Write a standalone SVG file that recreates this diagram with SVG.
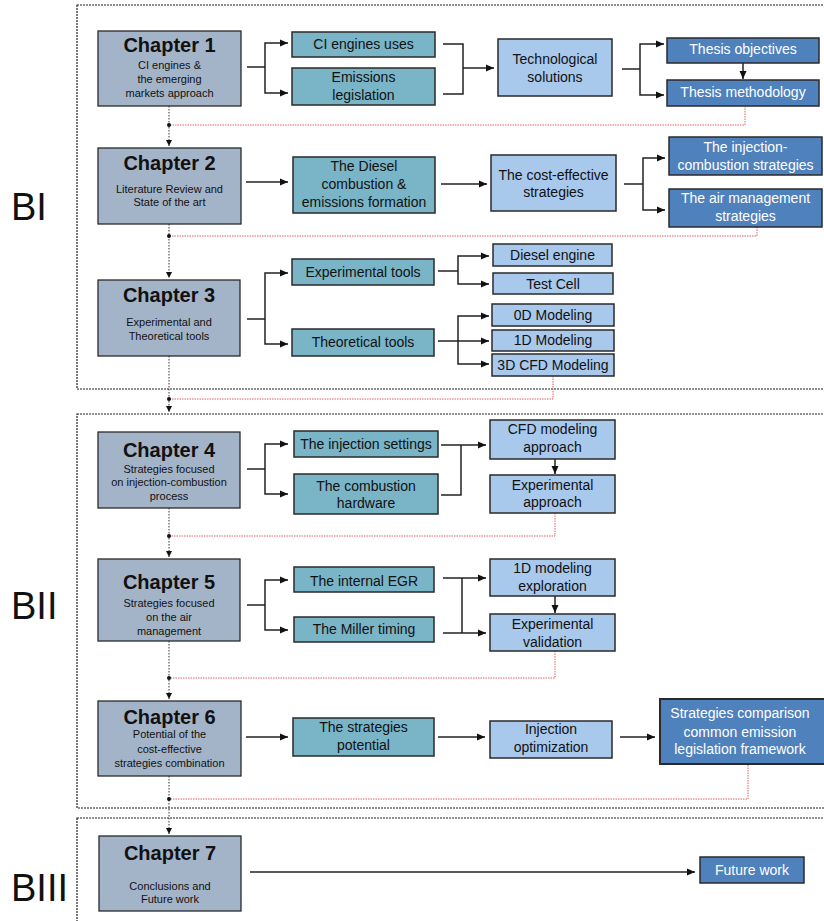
<svg xmlns="http://www.w3.org/2000/svg" width="824" height="921" viewBox="0 0 824 921">
<defs>
<marker id="ah" markerUnits="userSpaceOnUse" markerWidth="9" markerHeight="8" refX="8" refY="4" orient="auto"><path d="M0,0.5 L8,4 L0,7.5 z" fill="#111"/></marker>
<marker id="ahs" markerUnits="userSpaceOnUse" markerWidth="7" markerHeight="7" refX="6" refY="3" orient="auto"><path d="M0,0 L6,3 L0,6 z" fill="#111"/></marker>
<style>
text{font-family:"Liberation Sans",Arial,sans-serif;text-anchor:middle;fill:#111}
.ch rect{fill:#A4B4C8;stroke:#2a2a2a;stroke-width:1.3}
.tl rect{fill:#79B4C7;stroke:#2a2a2a;stroke-width:1.5}
.lb rect{fill:#A8C8EC;stroke:#2a2a2a;stroke-width:1.5}
.db rect{fill:#4F81BD;stroke:#2a2a2a;stroke-width:1.5}
.db text{fill:#fff}
.t{font-size:14px}
.h{font-size:20px;font-weight:bold}
.s{font-size:11px}
.blk{fill:none;stroke:#222;stroke-width:1.2;stroke-dasharray:2,1}
.lab{font-size:38px;text-anchor:start}
.c{fill:none;stroke:#222;stroke-width:1.5}
.red{fill:none;stroke:#E06060;stroke-width:1;stroke-dasharray:1.5,1}
.dot{fill:none;stroke:#333;stroke-width:1;stroke-dasharray:1.5,1.5}
</style>
</defs>
<rect width="824" height="921" fill="#fff"/>
<g id="blocks">
<rect class="blk" x="77" y="5" width="760" height="384"/>
<rect class="blk" x="77" y="414" width="760" height="394"/>
<rect class="blk" x="77" y="818" width="760" height="120"/>
<text class="lab" x="11" y="220">BI</text>
<text class="lab" x="11" y="619">BII</text>
<text class="lab" x="11" y="901">BIII</text>
</g>
<g id="connectors">
<path class="red" d="M745,106 V125 H169"/>
<path class="red" d="M757,227 V236 H169"/>
<path class="red" d="M553,376 V399 H169"/>
<path class="red" d="M555,513 V536 H169"/>
<path class="red" d="M555,651 V678 H169"/>
<path class="red" d="M748,765 V799 H169"/>
<path class="dot" d="M169,106 V146" marker-end="url(#ahs)"/>
<path class="dot" d="M169,224 V278" marker-end="url(#ahs)"/>
<path class="dot" d="M169,356 V412" marker-end="url(#ahs)"/>
<path class="dot" d="M169,508 V557" marker-end="url(#ahs)"/>
<path class="dot" d="M169,641 V699" marker-end="url(#ahs)"/>
<path class="dot" d="M169,776 V834" marker-end="url(#ahs)"/>
<g fill="#111"><circle cx="169" cy="125" r="2"/><circle cx="169" cy="236" r="2"/><circle cx="169" cy="399" r="2"/><circle cx="169" cy="536" r="2"/><circle cx="169" cy="678" r="2"/><circle cx="169" cy="799" r="2"/></g>
<path class="c" d="M247,67 H265"/>
<path class="c" d="M265,67 V43 H288" marker-end="url(#ah)"/>
<path class="c" d="M265,67 V93 H288" marker-end="url(#ah)"/>
<path class="c" d="M443,44 H463 V94 H443"/>
<path class="c" d="M463,68 H494" marker-end="url(#ah)"/>
<path class="c" d="M622,69 H640"/>
<path class="c" d="M640,69 V44 H664" marker-end="url(#ah)"/>
<path class="c" d="M640,69 V95 H664" marker-end="url(#ah)"/>
<path class="c" d="M743,63 V79" marker-end="url(#ah)"/>
<path class="c" d="M246,182 H288" marker-end="url(#ah)"/>
<path class="c" d="M441,184 H487" marker-end="url(#ah)"/>
<path class="c" d="M624,184 H643"/>
<path class="c" d="M643,184 V158 H665" marker-end="url(#ah)"/>
<path class="c" d="M643,184 V210 H665" marker-end="url(#ah)"/>
<path class="c" d="M247,319 H265"/>
<path class="c" d="M265,319 V273 H288" marker-end="url(#ah)"/>
<path class="c" d="M265,319 V344 H288" marker-end="url(#ah)"/>
<path class="c" d="M438,271 H458"/>
<path class="c" d="M458,271 V256 H489" marker-end="url(#ah)"/>
<path class="c" d="M458,271 V284 H489" marker-end="url(#ah)"/>
<path class="c" d="M438,341 H489" marker-end="url(#ah)"/>
<path class="c" d="M458,341 V316 H489" marker-end="url(#ah)"/>
<path class="c" d="M458,341 V364 H489" marker-end="url(#ah)"/>
<path class="c" d="M247,469 H265"/>
<path class="c" d="M265,469 V444 H288" marker-end="url(#ah)"/>
<path class="c" d="M265,469 V494 H288" marker-end="url(#ah)"/>
<path class="c" d="M441,445 H486" marker-end="url(#ah)"/>
<path class="c" d="M441,495 H461 V445"/>
<path class="c" d="M555,459 V474" marker-end="url(#ah)"/>
<path class="c" d="M247,605 H265"/>
<path class="c" d="M265,605 V580 H288" marker-end="url(#ah)"/>
<path class="c" d="M265,605 V630 H288" marker-end="url(#ah)"/>
<path class="c" d="M443,578 H486" marker-end="url(#ah)"/>
<path class="c" d="M443,633 H486" marker-end="url(#ah)"/>
<path class="c" d="M462,578 V633"/>
<path class="c" d="M555,596 V613" marker-end="url(#ah)"/>
<path class="c" d="M246,737 H288" marker-end="url(#ah)"/>
<path class="c" d="M438,737 H485" marker-end="url(#ah)"/>
<path class="c" d="M620,737 H655" marker-end="url(#ah)"/>
<path class="c" d="M250,872 H695" marker-end="url(#ah)"/>
</g>
<g id="ch1" class="ch"><rect x="98" y="31" width="143" height="75"/><text class="h" x="169.5" y="52">Chapter 1</text><text class="s" x="169.5" y="69">CI engines &amp;</text><text class="s" x="169.5" y="83">the emerging</text><text class="s" x="169.5" y="97">markets approach</text></g>
<g id="ch2" class="ch"><rect x="98" y="148" width="143" height="76"/><text class="h" x="169.5" y="170">Chapter 2</text><text class="s" x="169.5" y="193">Literature Review and</text><text class="s" x="169.5" y="206">State of the art</text></g>
<g id="ch3" class="ch"><rect x="98" y="280" width="142" height="76"/><text class="h" x="169" y="302">Chapter 3</text><text class="s" x="169" y="326">Experimental and</text><text class="s" x="169" y="340">Theoretical tools</text></g>
<g id="ch4" class="ch"><rect x="98" y="432" width="142" height="76"/><text class="h" x="169" y="457">Chapter 4</text><text class="s" x="169" y="473">Strategies focused</text><text class="s" x="169" y="486">on injection-combustion</text><text class="s" x="169" y="500">process</text></g>
<g id="ch5" class="ch"><rect x="98" y="559" width="142" height="82"/><text class="h" x="169" y="589">Chapter 5</text><text class="s" x="169" y="607">Strategies focused</text><text class="s" x="169" y="621">on the air</text><text class="s" x="169" y="635">management</text></g>
<g id="ch6" class="ch"><rect x="98" y="701" width="143" height="75"/><text class="h" x="169.5" y="724">Chapter 6</text><text class="s" x="169.5" y="738">Potential of the</text><text class="s" x="169.5" y="753">cost-effective</text><text class="s" x="169.5" y="767">strategies combination</text></g>
<g id="ch7" class="ch"><rect x="99" y="836" width="142" height="75"/><text class="h" x="170" y="860">Chapter 7</text><text class="s" x="170" y="890">Conclusions and</text><text class="s" x="170" y="903">Future work</text></g>
<g id="ci-uses" class="tl"><rect x="292" y="32" width="143" height="25"/><text class="t" x="363.5" y="49">CI engines uses</text></g>
<g id="emissions" class="tl"><rect x="292" y="68" width="143" height="37"/><text class="t" x="363.5" y="82">Emissions</text><text class="t" x="363.5" y="100">legislation</text></g>
<g id="diesel-comb" class="tl"><rect x="293" y="157" width="142" height="56"/><text class="t" x="364" y="171">The Diesel</text><text class="t" x="364" y="189">combustion &amp;</text><text class="t" x="364" y="207">emissions formation</text></g>
<g id="exp-tools" class="tl"><rect x="292" y="259" width="142" height="26"/><text class="t" x="363" y="277">Experimental tools</text></g>
<g id="theo-tools" class="tl"><rect x="292" y="329" width="142" height="27"/><text class="t" x="363" y="347">Theoretical tools</text></g>
<g id="inj-settings" class="tl"><rect x="294" y="431" width="144" height="26"/><text class="t" x="366" y="449">The injection settings</text></g>
<g id="comb-hw" class="tl"><rect x="294" y="474" width="144" height="40"/><text class="t" x="366" y="491">The combustion</text><text class="t" x="366" y="508">hardware</text></g>
<g id="egr" class="tl"><rect x="294" y="567" width="140" height="25"/><text class="t" x="364" y="586">The internal EGR</text></g>
<g id="miller" class="tl"><rect x="294" y="617" width="140" height="25"/><text class="t" x="364" y="634">The Miller timing</text></g>
<g id="strat-pot" class="tl"><rect x="293" y="718" width="141" height="38"/><text class="t" x="363.5" y="732">The strategies</text><text class="t" x="363.5" y="750">potential</text></g>
<g id="tech-sol" class="lb"><rect x="498" y="39" width="114" height="57"/><text class="t" x="555" y="64">Technological</text><text class="t" x="555" y="82">solutions</text></g>
<g id="cost-eff" class="lb"><rect x="491" y="155" width="125" height="56"/><text class="t" x="553.5" y="180">The cost-effective</text><text class="t" x="553.5" y="197">strategies</text></g>
<g id="diesel-engine" class="lb"><rect x="493" y="244" width="119" height="22"/><text class="t" x="552.5" y="260">Diesel engine</text></g>
<g id="test-cell" class="lb"><rect x="493" y="273" width="120" height="21"/><text class="t" x="553" y="289">Test Cell</text></g>
<g id="od" class="lb"><rect x="492" y="304" width="122" height="22"/><text class="t" x="553" y="320">0D Modeling</text></g>
<g id="1d" class="lb"><rect x="492" y="330" width="122" height="21"/><text class="t" x="553" y="345">1D Modeling</text></g>
<g id="3d" class="lb"><rect x="492" y="354" width="122" height="22"/><text class="t" x="553" y="370">3D CFD Modeling</text></g>
<g id="cfd-app" class="lb"><rect x="490" y="420" width="125" height="39"/><text class="t" x="552.5" y="434">CFD modeling</text><text class="t" x="552.5" y="452">approach</text></g>
<g id="exp-app" class="lb"><rect x="490" y="475" width="125" height="38"/><text class="t" x="552.5" y="490">Experimental</text><text class="t" x="552.5" y="507">approach</text></g>
<g id="1d-exp" class="lb"><rect x="490" y="559" width="125" height="37"/><text class="t" x="552.5" y="573">1D modeling</text><text class="t" x="552.5" y="591">exploration</text></g>
<g id="exp-val" class="lb"><rect x="490" y="614" width="125" height="37"/><text class="t" x="552.5" y="629">Experimental</text><text class="t" x="552.5" y="647">validation</text></g>
<g id="inj-opt" class="lb"><rect x="490" y="721" width="122" height="37"/><text class="t" x="551" y="734">Injection</text><text class="t" x="551" y="752">optimization</text></g>
<g id="thesis-obj" class="db"><rect x="667" y="38" width="152" height="25"/><text class="t" x="743" y="54">Thesis objectives</text></g>
<g id="thesis-meth" class="db"><rect x="667" y="80" width="152" height="26"/><text class="t" x="743" y="97">Thesis methodology</text></g>
<g id="inj-comb" class="db"><rect x="669" y="137" width="153" height="38"/><text class="t" x="745.5" y="152">The injection-</text><text class="t" x="745.5" y="170">combustion strategies</text></g>
<g id="air-man" class="db"><rect x="669" y="189" width="153" height="38"/><text class="t" x="745.5" y="203">The air management</text><text class="t" x="745.5" y="221">strategies</text></g>
<g id="strat-comp" class="db"><rect x="660" y="699" width="170" height="65" style="stroke-width:2"/><text class="t" x="740" y="718">Strategies comparison</text><text class="t" x="740" y="737">common emission</text><text class="t" x="740" y="754">legislation framework</text></g>
<g id="future-work" class="db"><rect x="700" y="857" width="104" height="26"/><text class="t" x="752" y="875">Future work</text></g>
</svg>
